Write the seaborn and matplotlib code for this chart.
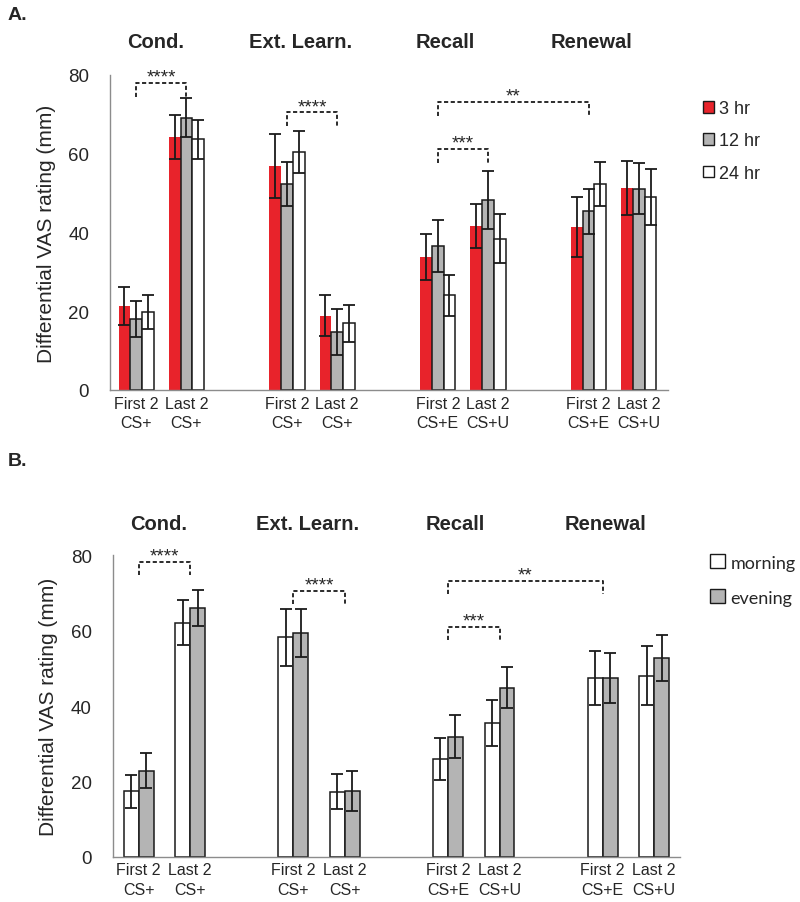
import numpy as np
import pandas as pd
import matplotlib
matplotlib.use('Agg')
import matplotlib.pyplot as plt
import matplotlib.transforms as mtransforms
from matplotlib.patches import Patch
import seaborn as sns

sns.set_style('white')
plt.rcParams['font.family'] = ['Liberation Sans', 'DejaVu Sans']

# x slots: two trial blocks per phase, one empty slot between phases
slots = [0, 1, 3, 4, 6, 7, 9, 10]
tick_labels = ['First 2\nCS+', 'Last 2\nCS+', 'First 2\nCS+', 'Last 2\nCS+',
               'First 2\nCS+E', 'Last 2\nCS+U', 'First 2\nCS+E', 'Last 2\nCS+U']
phases = ['Cond.', 'Ext. Learn.', 'Recall', 'Renewal']
phase_x = [0.38, 3.28, 6.15, 9.05]

# panel A: delay between sessions
delay_groups = ['3 hr', '12 hr', '24 hr']
delay_means = {
    '3 hr':  [21.3, 64.2, 56.8, 18.9, 33.7, 41.6, 41.4, 51.3],
    '12 hr': [18.1, 69.1, 52.3, 14.8, 36.6, 48.3, 45.4, 51.1],
    '24 hr': [19.9, 63.6, 60.4, 16.9, 24.0, 38.4, 52.2, 49.0],
}
delay_sem = {
    '3 hr':  [4.8, 5.6, 8.1, 5.3, 5.9, 5.5, 7.7, 6.9],
    '12 hr': [4.6, 5.0, 5.5, 5.8, 6.6, 7.4, 5.7, 6.4],
    '24 hr': [4.3, 5.0, 5.4, 4.7, 5.3, 6.2, 5.6, 7.0],
}
delay_colors = {'3 hr': '#e8232b', '12 hr': '#b4b4b4', '24 hr': '#ffffff'}
delay_edges = {'3 hr': 'none', '12 hr': '#1a1a1a', '24 hr': '#1a1a1a'}

# panel B: time of day
tod_groups = ['morning', 'evening']
tod_means = {
    'morning': [17.4, 62.1, 58.2, 17.3, 26.0, 35.5, 47.4, 48.1],
    'evening': [22.9, 66.1, 59.4, 17.5, 31.9, 44.9, 47.4, 52.7],
}
tod_sem = {
    'morning': [4.4, 5.9, 7.6, 4.6, 5.6, 6.1, 7.1, 7.9],
    'evening': [4.6, 4.8, 6.3, 5.3, 5.8, 5.5, 6.6, 6.1],
}
tod_colors = {'morning': '#ffffff', 'evening': '#b4b4b4'}
tod_edges = {'morning': '#1a1a1a', 'evening': '#1a1a1a'}

# significance brackets: (from slot, to slot, height, label)
sig_A = [(0, 1, 78.0, '****'), (3, 4, 70.6, '****'), (6, 9, 73.2, '**'), (6, 7, 61.3, '***')]
sig_B = [(0, 1, 78.3, '****'), (3, 4, 70.6, '****'), (6, 9, 73.3, '**'), (6, 7, 61.1, '***')]


def draw_panel(ax, groups, means, sems, colors, edges, width, sigs, xlim):
    df = pd.DataFrame({
        'slot': np.tile(slots, len(groups)),
        'value': np.concatenate([means[g] for g in groups]),
        'group': np.repeat(groups, len(slots)),
    })
    sns.barplot(data=df, x='slot', y='value', hue='group', hue_order=groups,
                palette=colors, native_scale=True, width=width, errorbar=None,
                saturation=1, legend=False, ax=ax)
    for cont, g in zip(ax.containers, groups):
        for bar, e in zip(cont, sems[g]):
            bar.set_edgecolor(edges[g])
            bar.set_linewidth(1.1)
            ax.errorbar(bar.get_x() + bar.get_width() / 2, bar.get_height(), yerr=e,
                        fmt='none', ecolor='#1a1a1a', elinewidth=1.3,
                        capsize=4.5, capthick=1.3, zorder=5)

    for x1, x2, y, lab in sigs:
        ax.plot([x1, x1, x2, x2], [y - 3.6, y, y, y - 3.6], color='#1a1a1a',
                lw=1.3, ls=(0, (2.3, 1.4)), clip_on=False)
        ax.text((x1 + x2) / 2, y - 0.8, lab, ha='center', va='bottom',
                fontsize=13.5, clip_on=False)

    trans = mtransforms.blended_transform_factory(ax.transData, ax.transAxes)
    for x, ph in zip(phase_x, phases):
        ax.text(x, 1.105, ph, transform=trans, ha='center', va='center',
                fontsize=14.5, fontweight='bold')

    ax.set_xlim(*xlim)
    ax.set_ylim(0, 80)
    ax.set_yticks([0, 20, 40, 60, 80])
    ax.set_xticks(slots)
    ax.set_xticklabels(tick_labels, fontsize=11.5, linespacing=1.4)
    ax.set_xlabel('')
    ax.set_ylabel('Differential VAS rating (mm)', fontsize=15, labelpad=9)
    ax.tick_params(axis='y', length=5, color='#8c8c8c', width=1, labelsize=13.5, pad=10)
    ax.tick_params(axis='x', length=0, pad=4)
    sns.despine(ax=ax)
    for s in ['left', 'bottom']:
        ax.spines[s].set_color('#8c8c8c')
        ax.spines[s].set_linewidth(1.0)


fig = plt.figure(figsize=(8, 9.03), dpi=100)
axA = fig.add_axes([0.1375, 0.567, 0.6975, 0.349])
axB = fig.add_axes([0.141, 0.050, 0.709, 0.334])

draw_panel(axA, delay_groups, delay_means, delay_sem, delay_colors, delay_edges,
           0.7, sig_A, (-0.52, 10.58))
draw_panel(axB, tod_groups, tod_means, tod_sem, tod_colors, tod_edges,
           0.58, sig_B, (-0.5, 10.5))

handlesA = [Patch(facecolor=delay_colors[g], edgecolor='#1a1a1a', linewidth=1.0, label=g)
            for g in delay_groups]
fig.legend(handles=handlesA, loc='upper left', bbox_to_anchor=(0.879, 0.888),
           frameon=False, fontsize=13, handlelength=0.6, handleheight=0.6,
           handletextpad=0.3, labelspacing=0.85, borderpad=0, borderaxespad=0)

handlesB = [Patch(facecolor=tod_colors[g], edgecolor='#1a1a1a', linewidth=1.0, label=g)
            for g in tod_groups]
fig.legend(handles=handlesB, loc='upper left', bbox_to_anchor=(0.888, 0.385),
           frameon=False, prop={'family': 'Lato', 'size': 13}, handlelength=0.8,
           handleheight=0.8, handletextpad=0.3, labelspacing=1.05, borderpad=0,
           borderaxespad=0)

fig.text(0.01, 1 - 16 / 903, 'A.', fontsize=14, fontweight='bold', va='center')
fig.text(0.01, 1 - 462 / 903, 'B.', fontsize=14, fontweight='bold', va='center')

fig.savefig('out.png', dpi=100)
